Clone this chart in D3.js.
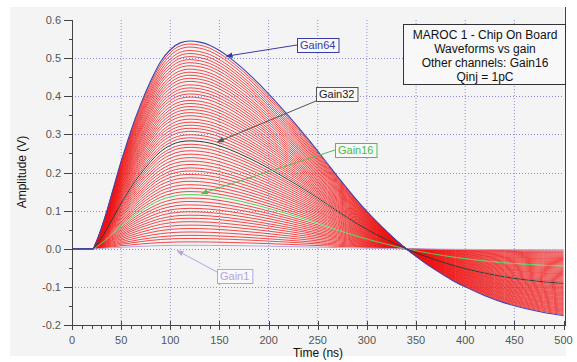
<!DOCTYPE html>
<html><head><meta charset="utf-8">
<script src="https://cdn.jsdelivr.net/npm/d3@7"></script>
<style>
html,body{margin:0;padding:0;background:#fff;}
svg{display:block;font-family:Arial,"Liberation Sans",sans-serif;}
</style></head>
<body><svg id="c" width="577" height="362"></svg>
<script>
// Time samples (ns) and the Gain64 waveform (V)
const timeNs = [0,21,25,30,35,40,45,50,55,60,70,80,90,100,110,120,130,140,150,160,170,180,190,200,210,220,230,240,250,260,270,280,290,300,310,320,330,340,350,360,370,380,390,400,420,440,460,480,500];
const gain64Wave = [0,0,0.02,0.055,0.095,0.14,0.185,0.23,0.27,0.31,0.38,0.44,0.49,0.522,0.54,0.545,0.542,0.534,0.52,0.502,0.481,0.458,0.433,0.406,0.378,0.349,0.319,0.288,0.256,0.223,0.19,0.158,0.127,0.098,0.071,0.046,0.022,0,-0.02,-0.039,-0.056,-0.072,-0.087,-0.1,-0.123,-0.142,-0.156,-0.167,-0.175];
// Gain settings and their peak amplitudes (V)
const gains = [1,2,3,4,5,6,7,8,9,10,11,12,13,14,15,16,17,18,19,20,21,22,23,24,25,26,27,28,29,30,31,32,33,34,35,36,37,38,39,40,41,42,43,44,45,46,47,48,49,50,51,52,53,54,55,56,57,58,59,60,61,62,63,64];
const peakAmp = [0.009,0.018,0.027,0.035,0.044,0.053,0.062,0.071,0.080,0.088,0.097,0.106,0.115,0.124,0.133,0.142,0.150,0.159,0.168,0.177,0.186,0.195,0.204,0.212,0.221,0.230,0.239,0.248,0.257,0.266,0.274,0.283,0.291,0.299,0.308,0.316,0.324,0.332,0.340,0.349,0.357,0.365,0.373,0.381,0.389,0.398,0.406,0.414,0.422,0.430,0.439,0.447,0.455,0.463,0.471,0.480,0.488,0.496,0.504,0.512,0.520,0.529,0.537,0.545];
const xTicks = [0,50,100,150,200,250,300,350,400,450,500];
const yTicks = [-0.2,-0.1,0.0,0.1,0.2,0.3,0.4,0.5,0.6];
const legendLines = ["MAROC 1 - Chip On Board","Waveforms vs gain","Other channels: Gain16","Qinj = 1pC"];
const callouts = [
  {gain:64,label:"Gain64",color:"#3a3aa8",border:"#3a3aa8",t:157,v:0.505,bx:297,by:38},
  {gain:32,label:"Gain32",color:"#222",border:"#555",t:148,v:0.28,bx:316,by:87},
  {gain:16,label:"Gain16",color:"#44bb44",border:"#55bb55",t:132,v:0.145,bx:335,by:143},
  {gain:1,label:"Gain1",color:"#b6a2e0",border:"#b6a2e0",t:107,v:-0.005,bx:217,by:269}
];

const svg = d3.select("#c");
const W=577,H=362;
svg.append("rect").attr("x",0).attr("y",0).attr("width",W).attr("height",H).attr("fill","#ffffff");
svg.append("rect").attr("x",10).attr("y",7).attr("width",556).attr("height",349).attr("fill","#f4f4f4");

const x = d3.scaleLinear().domain([0,500]).range([72,563.5]);
const y = d3.scaleLinear().domain([-0.2,0.6]).range([325,20]);

// grid
const grid = svg.append("g");
grid.selectAll("line.vg").data(xTicks.filter(d=>d>0&&d<500)).join("line")
  .attr("x1",d=>x(d)).attr("x2",d=>x(d)).attr("y1",y(0.6)).attr("y2",y(-0.2))
  .attr("stroke","#8c8cdc").attr("stroke-width",1).attr("stroke-dasharray","1,2");
grid.selectAll("line.hg").data(yTicks.filter(d=>d>-0.2&&d<0.6)).join("line")
  .attr("x1",x(0)).attr("x2",x(500)).attr("y1",d=>Math.round(y(d))+0.5).attr("y2",d=>Math.round(y(d))+0.5)
  .attr("stroke","#8c8cdc").attr("stroke-width",1).attr("stroke-dasharray","1,2");

// curves
const line = d3.line().x(d=>x(d[0])).y(d=>y(d[1])).curve(d3.curveMonotoneX);
function wave(i){ const k = peakAmp[i]/gain64Wave[15]; return timeNs.map((t,j)=>[t,gain64Wave[j]*k]); }
const curves = svg.append("g").attr("fill","none");
gains.forEach((g,i)=>{
  if([1,16,32,64].includes(g)) return;
  curves.append("path").attr("d",line(wave(i))).attr("stroke","#ee1111").attr("stroke-width",0.9).attr("stroke-opacity",0.85);
});
const special = {1:"#b6a2e0",16:"#55cc55",32:"#333333",64:"#4040b0"};
[1,16,32,64].forEach(g=>{
  const i = gains.indexOf(g);
  curves.append("path").attr("d",line(wave(i))).attr("stroke",special[g]).attr("stroke-width",g===64?1.1:1);
});

// axes
const axG = svg.append("g").attr("stroke","#444");
axG.append("line").attr("x1",72.5).attr("x2",72.5).attr("y1",20).attr("y2",325);
axG.append("line").attr("x1",72).attr("x2",565).attr("y1",325.5).attr("y2",325.5);
axG.append("line").attr("x1",565.5).attr("x2",565.5).attr("y1",7).attr("y2",326);
const yMinor = d3.range(-0.2,0.6001,0.05);
axG.selectAll("line.ym").data(yMinor).join("line")
  .attr("x1",69).attr("x2",72).attr("y1",d=>Math.round(y(d))+0.5).attr("y2",d=>Math.round(y(d))+0.5);
axG.selectAll("line.yM").data(yTicks).join("line")
  .attr("x1",64).attr("x2",72).attr("y1",d=>Math.round(y(d))+0.5).attr("y2",d=>Math.round(y(d))+0.5);
const xMinor = d3.range(0,500.1,10);
axG.selectAll("line.xm").data(xMinor).join("line")
  .attr("x1",d=>Math.round(x(d))+0.5).attr("x2",d=>Math.round(x(d))+0.5).attr("y1",325).attr("y2",329);
axG.selectAll("line.xM").data(xTicks).join("line")
  .attr("x1",d=>Math.round(x(d))+0.5).attr("x2",d=>Math.round(x(d))+0.5).attr("y1",321).attr("y2",330);

svg.append("g").selectAll("text").data(yTicks).join("text")
  .attr("x",61).attr("y",d=>y(d)+4).attr("text-anchor","end").attr("font-size",11).attr("fill","#555")
  .text(d=>d.toFixed(1));
svg.append("g").selectAll("text").data(xTicks).join("text")
  .attr("x",d=>x(d)).attr("y",344).attr("text-anchor","middle").attr("font-size",11).attr("fill","#555")
  .text(d=>d);
svg.append("text").attr("x",318).attr("y",357).attr("text-anchor","middle").attr("font-size",12).attr("fill","#111").text("Time (ns)");
svg.append("text").attr("transform","translate(26,172) rotate(-90)").attr("text-anchor","middle").attr("font-size",12).attr("fill","#111").text("Amplitude (V)");

// legend box
const lg = svg.append("g");
lg.append("rect").attr("x",403.5).attr("y",24.5).attr("width",162).attr("height",60).attr("fill","#f8f8f8").attr("stroke","#333");
lg.selectAll("text").data(legendLines).join("text")
  .attr("x",485).attr("y",(d,i)=>39+i*14).attr("text-anchor","middle").attr("font-size",12).attr("fill","#111").text(d=>d);

// callouts
const defs = svg.append("defs");
callouts.forEach((c,k)=>{
  defs.append("marker").attr("id","ah"+k).attr("viewBox","0 0 10 10").attr("refX",9).attr("refY",5)
    .attr("markerWidth",7).attr("markerHeight",7).attr("orient","auto")
    .append("path").attr("d","M0,1 L10,5 L0,9 Z").attr("fill",c.border);
  const g = svg.append("g");
  const txt = g.append("text").attr("x",c.bx+3).attr("y",c.by+11).attr("font-size",11).attr("fill",c.color).text(c.label);
  const bw = txt.node().getComputedTextLength()+6;
  g.insert("rect","text").attr("x",c.bx+0.5).attr("y",c.by+0.5).attr("width",bw).attr("height",14).attr("fill","#f8f8f8").attr("stroke",c.border);
  let sx = c.bx, sy = c.by+7;
  if(c.gain===32){ sy = c.by+14; }
  if(c.gain===1){ sy = c.by+3; }
  g.append("line").attr("x1",sx).attr("y1",sy).attr("x2",x(c.t)).attr("y2",y(c.v))
    .attr("stroke",c.border).attr("stroke-width",1).attr("marker-end","url(#ah"+k+")");
});
</script>
</body></html>
